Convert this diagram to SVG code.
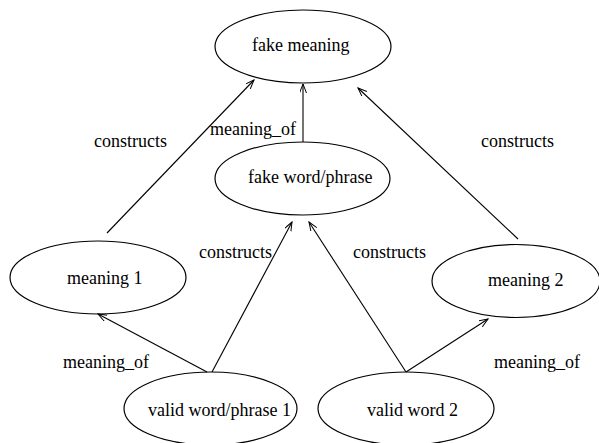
<svg xmlns="http://www.w3.org/2000/svg" width="599" height="443" viewBox="0 0 599 443">
<style>
.n ellipse{fill:none;stroke:#000;stroke-width:1.2}
text{font-family:"Liberation Serif","Times New Roman",serif;font-size:18px;fill:#000}
.e line{stroke:#000;stroke-width:1.1;fill:none}
</style>
<defs>
<marker id="arr" markerWidth="10" markerHeight="8" refX="9" refY="3.5" orient="auto" markerUnits="userSpaceOnUse">
<path d="M0,0 L9,3.5 L0,7" fill="none" stroke="#000" stroke-width="1"/>
</marker>
</defs>
<rect width="599" height="443" fill="#fff"/>
<g id="fake_meaning" class="n"><ellipse cx="303" cy="46.5" rx="88" ry="36.5"/><text x="252" y="51">fake meaning</text></g>
<g id="fake_word" class="n"><ellipse cx="302.5" cy="178.5" rx="87.5" ry="36.5"/><text x="248" y="183">fake word/phrase</text></g>
<g id="meaning1" class="n"><ellipse cx="98" cy="277.5" rx="88" ry="36.5"/><text x="67" y="284">meaning 1</text></g>
<g id="meaning2" class="n"><ellipse cx="516" cy="281" rx="84" ry="36.5"/><text x="488" y="286">meaning 2</text></g>
<g id="valid1" class="n"><ellipse cx="210.5" cy="408.5" rx="86.5" ry="36.5"/><text x="148" y="416">valid word/phrase 1</text></g>
<g id="valid2" class="n"><ellipse cx="406" cy="408.5" rx="88" ry="36.5"/><text x="367" y="416">valid word 2</text></g>
<g id="connectors" class="e">
<line x1="303" y1="142" x2="303" y2="84" marker-end="url(#arr)"/>
<line x1="107" y1="233" x2="254" y2="80" marker-end="url(#arr)"/>
<line x1="518" y1="239" x2="358" y2="88" marker-end="url(#arr)"/>
<line x1="207" y1="372" x2="98" y2="314" marker-end="url(#arr)"/>
<line x1="212" y1="372" x2="292" y2="222" marker-end="url(#arr)"/>
<line x1="406" y1="372" x2="309" y2="222" marker-end="url(#arr)"/>
<line x1="406" y1="372" x2="488" y2="319" marker-end="url(#arr)"/>
<text x="210" y="135">meaning_of</text>
<text x="94" y="147">constructs</text>
<text x="481" y="147">constructs</text>
<text x="199" y="258">constructs</text>
<text x="353" y="258">constructs</text>
<text x="63" y="368">meaning_of</text>
<text x="494" y="368">meaning_of</text>
</g>
</svg>
